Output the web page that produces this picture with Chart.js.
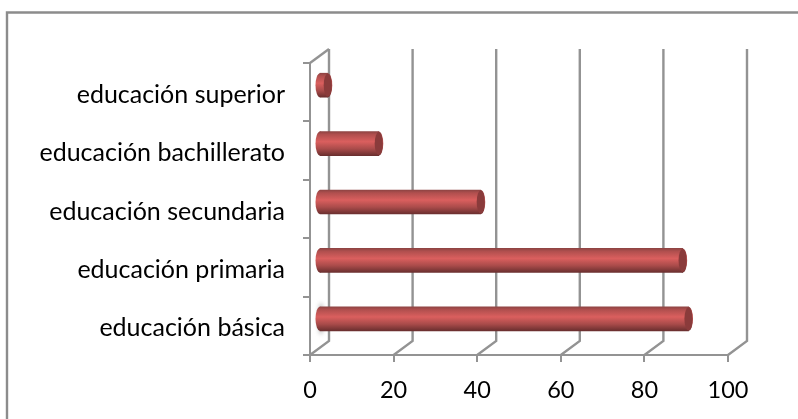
<!DOCTYPE html>
<html>
<head>
<meta charset="utf-8">
<script src="https://cdn.jsdelivr.net/npm/chart.js@4"></script>
<style>
html, body { margin: 0; padding: 0; background: #fff; }
canvas { display: block; }
</style>
</head>
<body>
<canvas id="c" width="798" height="419"></canvas>
<script>
const categories = ['educación superior', 'educación bachillerato', 'educación secundaria', 'educación primaria', 'educación básica'];
const values = [2.1, 14.3, 38.7, 87, 88.4];
const xTicks = [0, 20, 40, 60, 80, 100];

const DEPTH_X = 19, DEPTH_Y = 14;   // pared del fondo
const BAR_X = 9, BAR_Y = -7;        // barras a media profundidad
const GREY = '#939393';

// gradiente vertical del cilindro
function barGradient(ctx) {
    const chart = ctx.chart;
    const y = chart.scales.y ? chart.scales.y.getPixelForValue(ctx.dataIndex) : NaN;
    if (!isFinite(y)) return '#c9504f'; // todavía sin layout
    const g = chart.ctx.createLinearGradient(0, y - 12, 0, y + 12);
    g.addColorStop(0, '#8f4443');
    g.addColorStop(0.12, '#b04f4e');
    g.addColorStop(0.42, '#da5f5e');
    g.addColorStop(0.72, '#a94b4a');
    g.addColorStop(1, '#6b2f2f');
    return g;
}

// paredes 3D: líneas del fondo y diagonales
const walls = {
    id: 'walls',
    beforeDatasetsDraw(chart) {
        const { ctx, scales: { x, y } } = chart;
        const top = y.top, bottom = y.bottom;
        ctx.save();
        ctx.strokeStyle = GREY;
        ctx.lineWidth = 2.4;
        xTicks.forEach(v => {
            const px = x.getPixelForValue(v);
            ctx.beginPath();
            ctx.moveTo(px, bottom);
            ctx.lineTo(px + DEPTH_X, bottom - DEPTH_Y);
            ctx.lineTo(px + DEPTH_X, top - DEPTH_Y);
            ctx.stroke();
        });
        ctx.beginPath();
        ctx.moveTo(x.left, top);
        ctx.lineTo(x.left + DEPTH_X, top - DEPTH_Y);
        ctx.stroke();
        ctx.restore();
    }
};

// mueve las barras y dibuja las tapas del cilindro
const cylinders = {
    id: 'cylinders',
    beforeDatasetsDraw(chart) {
        const { ctx } = chart;
        ctx.save();
        ctx.translate(BAR_X, BAR_Y);
        const bars = chart.getDatasetMeta(0).data;
        // mancha gris junto a la primera barra
        const last = bars[bars.length - 1];
        ctx.save();
        ctx.filter = 'blur(2px)';
        ctx.fillStyle = '#b5b5b5';
        ctx.beginPath();
        ctx.ellipse(last.base + 1, last.y, 2.5, last.height / 2 + 4, 0, 0, Math.PI * 2);
        ctx.fill();
        ctx.restore();
        bars.forEach(bar => {
            ctx.fillStyle = bar.options.backgroundColor;
            ctx.beginPath();
            ctx.ellipse(bar.base, bar.y, 4.5, bar.height / 2, 0, 0, Math.PI * 2);
            ctx.fill();
        });
    },
    afterDatasetsDraw(chart) {
        const { ctx } = chart;
        chart.getDatasetMeta(0).data.forEach(bar => {
            ctx.fillStyle = bar.options.backgroundColor;
            ctx.beginPath();
            ctx.ellipse(bar.x, bar.y, 4.5, bar.height / 2, 0, 0, Math.PI * 2);
            ctx.fill();
            ctx.fillStyle = '#8a3b3b';
            ctx.beginPath();
            ctx.ellipse(bar.x, bar.y, 4.1, bar.height / 2 - 0.5, 0, 0, Math.PI * 2);
            ctx.fill();
        });
        ctx.restore();
    }
};

// marco exterior: solo arriba y a la izquierda, sigue hasta el borde de la imagen
const frame = {
    id: 'frame',
    afterDraw(chart) {
        const { ctx, width, height } = chart;
        ctx.save();
        ctx.strokeStyle = '#8c8c8c';
        ctx.lineWidth = 2.4;
        ctx.beginPath();
        ctx.moveTo(7, height);
        ctx.lineTo(7, 12.5);
        ctx.lineTo(width, 12.5);
        ctx.stroke();
        ctx.restore();
    }
};

new Chart(document.getElementById('c'), {
    type: 'bar',
    data: {
        labels: categories,
        datasets: [{
            data: values,
            backgroundColor: barGradient,
            barThickness: 24,
            borderWidth: 0
        }]
    },
    options: {
        indexAxis: 'y',
        responsive: false,
        animation: false,
        devicePixelRatio: 1,
        layout: { padding: { top: 63, left: 0, right: 70, bottom: 0 } },
        plugins: { legend: { display: false }, tooltip: { enabled: false } },
        scales: {
            x: {
                min: 0,
                max: 100,
                afterBuildTicks(axis) { axis.ticks = xTicks.map(v => ({ value: v })); },
                afterFit(axis) { axis.height = 64; },
                border: { color: GREY, width: 2 },
                grid: { display: true, drawOnChartArea: false, color: GREY, lineWidth: 2, tickLength: 7 },
                ticks: { color: '#000', padding: 14, maxRotation: 0, font: { family: 'Lato', size: 23.5 } }
            },
            y: {
                afterFit(axis) { axis.width = 310; },
                border: { color: GREY, width: 2 },
                grid: { display: true, drawOnChartArea: false, color: GREY, lineWidth: 2, tickLength: 7 },
                ticks: { color: '#000', padding: 18, labelOffset: 2.5, font: { family: 'Lato', size: 25 } }
            }
        }
    },
    plugins: [walls, cylinders, frame]
});
</script>
</body>
</html>
